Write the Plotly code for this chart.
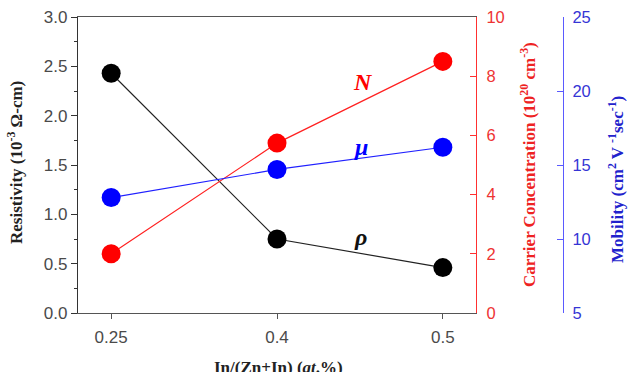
import plotly.graph_objects as go

x_labels = ["0.25", "0.4", "0.5"]
resistivity = [2.43, 0.75, 0.46]
carrier = [2.0, 5.74, 8.5]
mobility = [12.8, 14.7, 16.2]

W, H = 636, 372
L, R, T, B = 78, 0, 17, 59
pw = W - L - R
ph = H - T - B
plot_right = 476
blue_axis_x = 563

def px(x):
    return (x - L) / pw

def py(y):
    return (H - B - y) / ph

fig = go.Figure()
fig.add_trace(go.Scatter(x=x_labels, y=resistivity, mode="lines+markers",
                         line=dict(color="#222222", width=1.2),
                         marker=dict(color="black", size=19), yaxis="y"))
fig.add_trace(go.Scatter(x=x_labels, y=carrier, mode="lines+markers",
                         line=dict(color="#ff2020", width=1.2),
                         marker=dict(color="#ff0000", size=19), yaxis="y2"))
fig.add_trace(go.Scatter(x=x_labels, y=mobility, mode="lines+markers",
                         line=dict(color="#2020ff", width=1.2),
                         marker=dict(color="#0000ff", size=19), yaxis="y3"))

tickfont = dict(family="Liberation Sans", size=17, color="#4a4a4a")
serif = "Liberation Serif"

fig.update_layout(
    width=W, height=H,
    margin=dict(l=L, r=R, t=T, b=B),
    plot_bgcolor="white", paper_bgcolor="white",
    showlegend=False,
    xaxis=dict(type="category", range=[-0.2, 2.2], domain=[0, px(plot_right)],
               showline=True, linecolor="#555555", linewidth=1.2, mirror=True,
               ticks="outside", ticklen=5, tickcolor="#555555", ticklabelstandoff=3,
               showgrid=False, zeroline=False, tickfont=tickfont),
    yaxis=dict(range=[0, 3.0], dtick=0.5, tickformat=".1f",
               showline=True, linecolor="#333333", linewidth=1.2,
               ticks="outside", ticklen=6, tickcolor="#333333",
               minor=dict(ticks="outside", ticklen=3, dtick=0.25, tickcolor="#333333"),
               showgrid=False, zeroline=False, tickfont=tickfont),
    yaxis2=dict(range=[0, 10], dtick=2, overlaying="y", side="right", anchor="x",
                showline=True, linecolor="#ff3030", linewidth=1.2,
                ticks="inside", ticklen=6, tickcolor="#ff3030", ticklabelstandoff=6,
                showgrid=False, zeroline=False,
                tickfont=dict(family="Liberation Sans", size=16.5, color="#ee3333")),
    yaxis3=dict(range=[5, 25], dtick=5, overlaying="y", side="right", anchor="free",
                position=px(blue_axis_x),
                showline=True, linecolor="#5a5aff", linewidth=1.2,
                ticks="inside", ticklen=6, tickcolor="#5a5aff", ticklabelstandoff=5,
                showgrid=False, zeroline=False,
                tickfont=dict(family="Liberation Sans", size=16.5, color="#3535d5")),
)

annotations = [
    dict(text="<b>Resistivity (10<sup>-3</sup> Ω-cm)</b>", x=px(15), y=py(163),
         textangle=-90, font=dict(family=serif, size=17, color="#222222")),
    dict(text="<b>Carrier Concentration (10<sup>20</sup> cm<sup>-3</sup>)</b>", x=px(528), y=py(165),
         textangle=-90, font=dict(family=serif, size=17, color="#ee2222")),
    dict(text="<b>Mobility (cm<sup>2</sup> V <sup>-1</sup>sec<sup>-1</sup>)</b>", x=px(616), y=py(180),
         textangle=-90, font=dict(family=serif, size=17, color="#2222cc")),
    dict(text="<b>In/(Zn+In) (<i>at</i>.%)</b>", x=px(278), y=py(356), yanchor="top",
         font=dict(family=serif, size=17, color="#222222")),
    dict(text="<b><i>N</i></b>", x=px(363), y=py(82),
         font=dict(family=serif, size=24, color="#ff0000")),
    dict(text="<b><i>μ</i></b>", x=px(360), y=py(147),
         font=dict(family=serif, size=24, color="#0000ff")),
    dict(text="<b><i>ρ</i></b>", x=px(360), y=py(237),
         font=dict(family=serif, size=24, color="#111111")),
]
for a in annotations:
    a.setdefault("yanchor", "middle")
    fig.add_annotation(xref="paper", yref="paper", showarrow=False, xanchor="center", **a)

fig.write_html("out.html")
